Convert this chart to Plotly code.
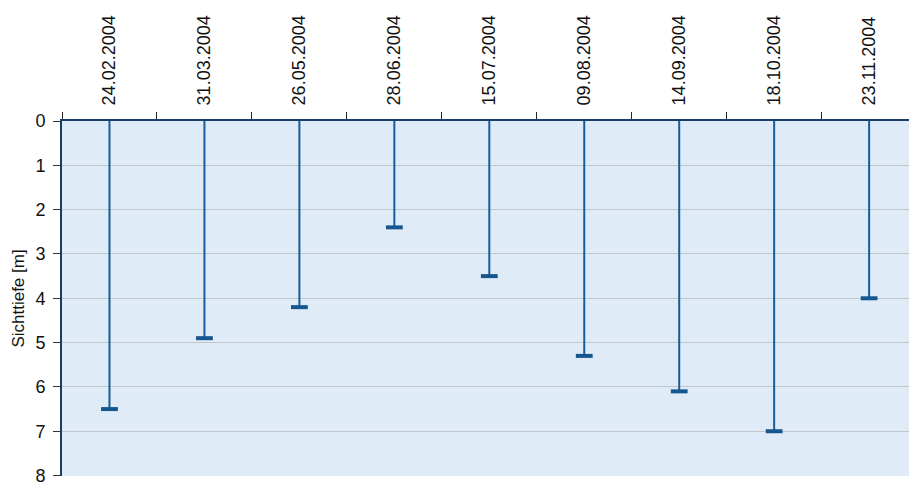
import plotly.graph_objects as go

dates = ["24.02.2004", "31.03.2004", "26.05.2004", "28.06.2004", "15.07.2004",
         "09.08.2004", "14.09.2004", "18.10.2004", "23.11.2004"]
depth = [6.5, 4.9, 4.2, 2.4, 3.5, 5.3, 6.1, 7.0, 4.0]

line_color = "#1a5c9a"
cap_color = "#15568f"

fig = go.Figure()

# vertical stems from surface (0) to visibility depth
xs, ys = [], []
for d, v in zip(dates, depth):
    xs += [d, d, None]
    ys += [0, v, None]
fig.add_trace(go.Scatter(x=xs, y=ys, mode="lines",
                         line=dict(color=line_color, width=2),
                         hoverinfo="skip", showlegend=False))
# caps at depth
fig.add_trace(go.Scatter(x=dates, y=depth, mode="markers",
                         marker=dict(symbol="line-ew-open", size=12, color=cap_color,
                                     line=dict(color=cap_color, width=4)),
                         showlegend=False))

font = "Liberation Sans, Arial, sans-serif"
fig.update_layout(
    width=909, height=484,
    margin=dict(l=62, r=0, t=121, b=8, autoexpand=False),
    paper_bgcolor="white", plot_bgcolor="#dfecf8",
    font=dict(family=font, size=18, color="#111111"),
    xaxis=dict(type="category", side="top", categoryorder="array",
               categoryarray=dates, range=[-0.5, 8.42], automargin=False,
               tickangle=-90, tickson="boundaries", ticks="outside",
               ticklen=7, tickcolor="#222222", tickwidth=1,
               ticklabelstandoff=10,
               showgrid=False, showline=True, linecolor="#163e66",
               linewidth=2, zeroline=False, tickfont=dict(size=18)),
    yaxis=dict(range=[8.01, 0], tickmode="array", tickvals=list(range(0, 9)),
               automargin=False, ticklabeloverflow="allow",
               ticks="outside", ticklen=7, tickcolor="#333333", tickwidth=1,
               ticklabelstandoff=4,
               showgrid=True, gridcolor="#c2c6ca", gridwidth=1,
               showline=True, linecolor="#163e66", linewidth=2,
               zeroline=False, tickfont=dict(size=18),
               title=dict(text="Sichttiefe [m]", font=dict(size=17), standoff=6)),
)

fig.write_html("out.html", config={"displayModeBar": False},
               post_script="document.body.style.margin='0';document.body.style.overflow='hidden';")
